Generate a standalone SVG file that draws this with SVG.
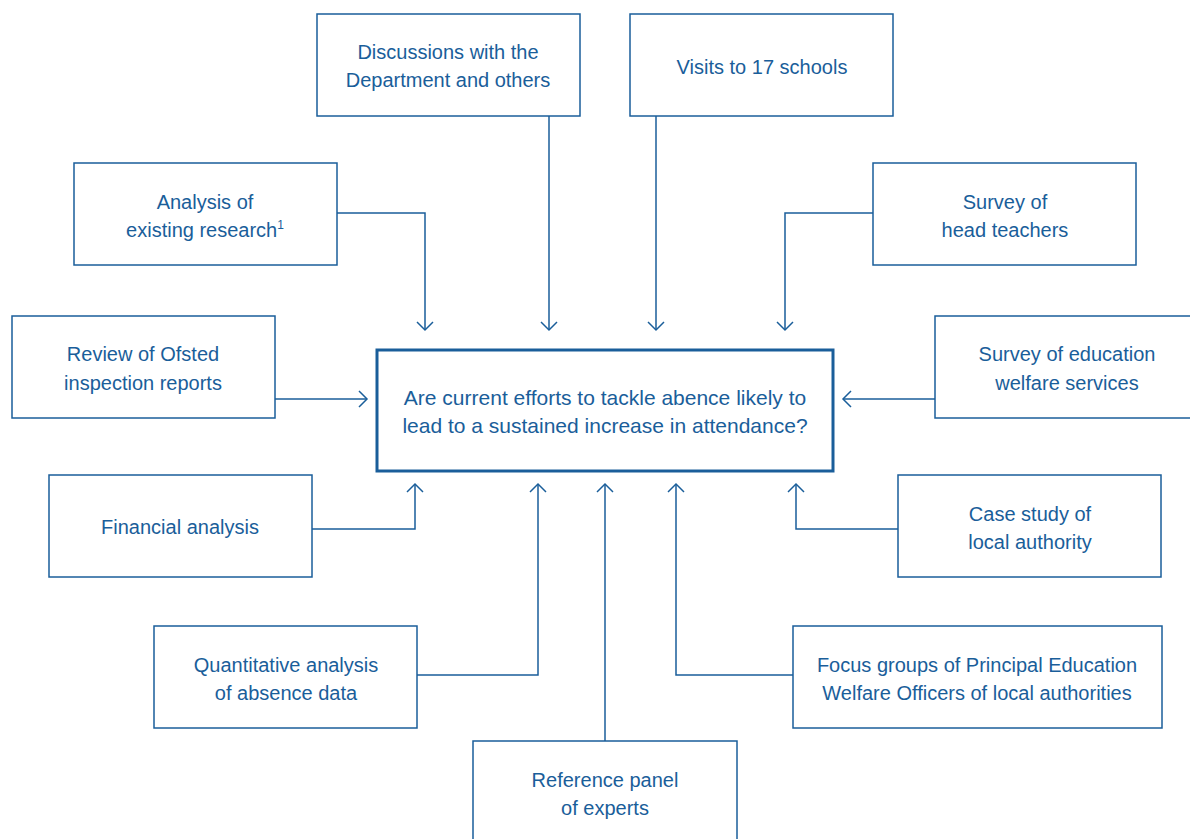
<svg xmlns="http://www.w3.org/2000/svg" width="1190" height="839" viewBox="0 0 1190 839">
<defs>
<marker id="arr" markerWidth="20" markerHeight="20" refX="10" refY="10" orient="auto" markerUnits="userSpaceOnUse">
<path d="M2,2 L10,10 L2,18" fill="none" stroke="#1a5e9a" stroke-width="1.5"/>
</marker>
<style>
.box{fill:#fff;stroke:#1a5e9a;stroke-width:1.5}
.main{fill:#fff;stroke:#1a5e9a;stroke-width:3}
text{font-family:"Liberation Sans",Arial,sans-serif;font-size:20px;fill:#1a5e9a;text-anchor:middle}
.big{font-size:21px}
.c{fill:none;stroke:#1a5e9a;stroke-width:1.5;marker-end:url(#arr)}
</style>
</defs>
<rect width="1190" height="839" fill="#fff"/>
<g id="connectors">
<path class="c" d="M337,213 H425 V330"/>
<path class="c" d="M549,116 V330"/>
<path class="c" d="M656,116 V330"/>
<path class="c" d="M873,213 H785 V330"/>
<path class="c" d="M275,399 H367"/>
<path class="c" d="M935,399 H843"/>
<path class="c" d="M312,529 H415 V484"/>
<path class="c" d="M417,675 H538 V484"/>
<path class="c" d="M605,741 V484"/>
<path class="c" d="M793,675 H676 V484"/>
<path class="c" d="M898,529 H796 V484"/>
</g>
<g id="discussions"><rect class="box" x="317" y="14" width="263" height="102"/><text x="448" y="59">Discussions with the</text><text x="448" y="87">Department and others</text></g>
<g id="visits"><rect class="box" x="630" y="14" width="263" height="102"/><text x="762" y="74">Visits to 17 schools</text></g>
<g id="analysis"><rect class="box" x="74" y="163" width="263" height="102"/><text x="205" y="209">Analysis of</text><text x="205" y="237">existing research<tspan font-size="12" dy="-8">1</tspan></text></g>
<g id="survey-head"><rect class="box" x="873" y="163" width="263" height="102"/><text x="1005" y="209">Survey of</text><text x="1005" y="237">head teachers</text></g>
<g id="review"><rect class="box" x="12" y="316" width="263" height="102"/><text x="143" y="361">Review of Ofsted</text><text x="143" y="390">inspection reports</text></g>
<g id="survey-edu"><rect class="box" x="935" y="316" width="263" height="102"/><text x="1067" y="361">Survey of education</text><text x="1067" y="390">welfare services</text></g>
<g id="central"><rect class="main" x="377" y="350" width="456" height="121"/><text class="big" x="605" y="405">Are current efforts to tackle abence likely to</text><text class="big" x="605" y="433">lead to a sustained increase in attendance?</text></g>
<g id="financial"><rect class="box" x="49" y="475" width="263" height="102"/><text x="180" y="534">Financial analysis</text></g>
<g id="case"><rect class="box" x="898" y="475" width="263" height="102"/><text x="1030" y="521">Case study of</text><text x="1030" y="549">local authority</text></g>
<g id="quant"><rect class="box" x="154" y="626" width="263" height="102"/><text x="286" y="672">Quantitative analysis</text><text x="286" y="700">of absence data</text></g>
<g id="focus"><rect class="box" x="793" y="626" width="369" height="102"/><text x="977" y="672">Focus groups of Principal Education</text><text x="977" y="700">Welfare Officers of local authorities</text></g>
<g id="reference"><rect class="box" x="473" y="741" width="264" height="110"/><text x="605" y="787">Reference panel</text><text x="605" y="815">of experts</text></g>
</svg>
